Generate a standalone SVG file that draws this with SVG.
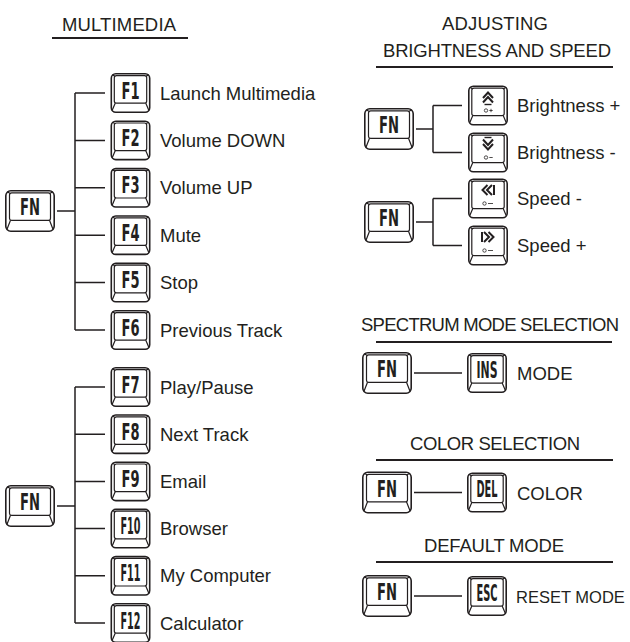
<svg xmlns="http://www.w3.org/2000/svg" xmlns:xlink="http://www.w3.org/1999/xlink" width="630" height="642" viewBox="0 0 630 642">
<style>
.ko{fill:#fff;stroke:#231f20;stroke-width:1.6}
.ki{fill:none;stroke:#231f20;stroke-width:1.2;stroke-linejoin:round}
.kt{font-family:"DejaVu Sans Condensed","DejaVu Sans",sans-serif;font-weight:bold;font-stretch:condensed;font-size:23px;fill:#231f20;text-anchor:middle}
.lb{font-family:"Liberation Sans",Arial,sans-serif;font-size:18.5px;fill:#231f20}
.hd{font-family:"Liberation Sans",Arial,sans-serif;font-size:18.5px;fill:#231f20;text-anchor:middle}
.ul{stroke:#231f20;stroke-width:2;fill:none}
.cn{stroke:#231f20;stroke-width:1.5;fill:none}
.ic{stroke:#231f20;stroke-width:2;fill:none;stroke-linejoin:miter}
.ts{stroke:#231f20;stroke-width:0.8;fill:none}
</style>
<defs>
<symbol id="k40" viewBox="0 0 40 40" width="40" height="40" overflow="visible">
<rect x="0.8" y="0.8" width="38.4" height="38.4" rx="4.5" class="ko"/>
<rect x="3.8" y="2.6" width="32.4" height="27.6" rx="2.2" class="ki"/>
<path d="M4.8,30 L1.6,37.6 M35.2,30 L38.4,37.6 M4.3,3.1 L1.8,1.8 M35.7,3.1 L38.2,1.8" class="ki"/>
</symbol>
<symbol id="k50" viewBox="0 0 50 42" width="50" height="42" overflow="visible">
<rect x="0.8" y="0.8" width="48.4" height="40.4" rx="5" class="ko"/>
<rect x="4.5" y="2.8" width="41" height="27.6" rx="2.2" class="ki"/>
<path d="M5.5,30.2 L1.8,39.8 M44.5,30.2 L48.2,39.8 M5,3.3 L2,1.8 M45,3.3 L48,1.8" class="ki"/>
</symbol>
</defs>

<g id="headings">
<text class="hd" x="119" y="31" textLength="114">MULTIMEDIA</text>
<path class="ul" d="M52,38 H188"/>
<text class="hd" x="495" y="30" textLength="106">ADJUSTING</text>
<text class="hd" x="497" y="57" textLength="228">BRIGHTNESS AND SPEED</text>
<path class="ul" d="M376,67 H613"/>
<text class="hd" x="490" y="331" textLength="258">SPECTRUM MODE SELECTION</text>
<path class="ul" d="M376,342 H612"/>
<text class="hd" x="495" y="450" textLength="170">COLOR SELECTION</text>
<path class="ul" d="M376,460 H613"/>
<text class="hd" x="494" y="552" textLength="140">DEFAULT MODE</text>
<path class="ul" d="M376,562 H613"/>
</g>

<g id="connectors">
<path class="cn" d="M57,211 H75 M75,93 V330 M75,93 H105 M75,140.4 H105 M75,187.8 H105 M75,235.2 H105 M75,282.6 H105 M75,330 H105"/>
<path class="cn" d="M57,506 H75 M75,387 V623 M75,387 H105 M75,434.2 H105 M75,481.4 H105 M75,528.6 H105 M75,575.8 H105 M75,623 H105"/>
<path class="cn" d="M416,129 H433 M433,105.5 V152.5 M433,105.5 H462 M433,152.5 H462"/>
<path class="cn" d="M416,222 H433 M433,198.5 V245.5 M433,198.5 H462 M433,245.5 H462"/>
<path class="cn" d="M414,373 H462 M414,492.5 H462 M414,596 H462"/>
</g>

<g id="fn-multimedia-1"><use xlink:href="#k50" x="5" y="190"/><text class="kt" x="30" y="215" textLength="20" lengthAdjust="spacingAndGlyphs">FN</text></g>
<g id="fn-multimedia-2"><use xlink:href="#k50" x="5" y="485"/><text class="kt" x="30" y="510" textLength="20" lengthAdjust="spacingAndGlyphs">FN</text></g>

<g id="f1"><use xlink:href="#k40" x="110.5" y="73"/><text class="kt" x="130.5" y="98.5" textLength="18" lengthAdjust="spacingAndGlyphs">F1</text><text class="lb" x="160" y="99.5">Launch Multimedia</text></g>
<g id="f2"><use xlink:href="#k40" x="110.5" y="120.4"/><text class="kt" x="130.5" y="145.9" textLength="18" lengthAdjust="spacingAndGlyphs">F2</text><text class="lb" x="160" y="146.9">Volume DOWN</text></g>
<g id="f3"><use xlink:href="#k40" x="110.5" y="167.8"/><text class="kt" x="130.5" y="193.3" textLength="18" lengthAdjust="spacingAndGlyphs">F3</text><text class="lb" x="160" y="194.3">Volume UP</text></g>
<g id="f4"><use xlink:href="#k40" x="110.5" y="215.2"/><text class="kt" x="130.5" y="240.7" textLength="18" lengthAdjust="spacingAndGlyphs">F4</text><text class="lb" x="160" y="241.7">Mute</text></g>
<g id="f5"><use xlink:href="#k40" x="110.5" y="262.6"/><text class="kt" x="130.5" y="288.1" textLength="18" lengthAdjust="spacingAndGlyphs">F5</text><text class="lb" x="160" y="289.1">Stop</text></g>
<g id="f6"><use xlink:href="#k40" x="110.5" y="310"/><text class="kt" x="130.5" y="335.5" textLength="18" lengthAdjust="spacingAndGlyphs">F6</text><text class="lb" x="160" y="336.5">Previous Track</text></g>

<g id="f7"><use xlink:href="#k40" x="110.5" y="367"/><text class="kt" x="130.5" y="392.5" textLength="18" lengthAdjust="spacingAndGlyphs">F7</text><text class="lb" x="160" y="393.5">Play/Pause</text></g>
<g id="f8"><use xlink:href="#k40" x="110.5" y="414.2"/><text class="kt" x="130.5" y="439.7" textLength="18" lengthAdjust="spacingAndGlyphs">F8</text><text class="lb" x="160" y="440.7">Next Track</text></g>
<g id="f9"><use xlink:href="#k40" x="110.5" y="461.4"/><text class="kt" x="130.5" y="486.9" textLength="18" lengthAdjust="spacingAndGlyphs">F9</text><text class="lb" x="160" y="487.9">Email</text></g>
<g id="f10"><use xlink:href="#k40" x="110.5" y="508.6"/><text class="kt" x="130.5" y="534.1" textLength="20" lengthAdjust="spacingAndGlyphs">F10</text><text class="lb" x="160" y="535.1">Browser</text></g>
<g id="f11"><use xlink:href="#k40" x="110.5" y="555.8"/><text class="kt" x="130.5" y="581.3" textLength="20" lengthAdjust="spacingAndGlyphs">F11</text><text class="lb" x="160" y="582.3">My Computer</text></g>
<g id="f12"><use xlink:href="#k40" x="110.5" y="603"/><text class="kt" x="130.5" y="628.5" textLength="20" lengthAdjust="spacingAndGlyphs">F12</text><text class="lb" x="160" y="629.5">Calculator</text></g>

<g id="fn-brightness"><use xlink:href="#k50" x="364" y="108"/><text class="kt" x="389" y="133" textLength="20" lengthAdjust="spacingAndGlyphs">FN</text></g>
<g id="brightness-up"><use xlink:href="#k40" x="468" y="85.5"/>
<g transform="translate(468,85.5)"><path class="ic" d="M15,12.5 L20,7 L25,12.5 M15,17 L20,11.5 L25,17"/><path class="ic" d="M16.5,19 H23.5" style="stroke-width:1.4"/><circle cx="18" cy="25" r="1.7" class="ts"/><path class="ts" d="M21.3,25 H24.7 M23,23.3 V26.7"/></g>
<text class="lb" x="517" y="112">Brightness +</text></g>
<g id="brightness-down"><use xlink:href="#k40" x="468" y="132.5"/>
<g transform="translate(468,132.5)"><path class="ic" d="M16.5,5 H23.5" style="stroke-width:1.4"/><path class="ic" d="M15,7 L20,12.5 L25,7 M15,11.5 L20,17 L25,11.5"/><circle cx="18" cy="25" r="1.7" class="ts"/><path class="ts" d="M21.3,25 H24.7"/></g>
<text class="lb" x="517" y="159">Brightness -</text></g>

<g id="fn-speed"><use xlink:href="#k50" x="364" y="201"/><text class="kt" x="389" y="226" textLength="20" lengthAdjust="spacingAndGlyphs">FN</text></g>
<g id="speed-down"><use xlink:href="#k40" x="468" y="178.5"/>
<g transform="translate(468,178.5)"><path class="ic" d="M19.5,6.5 L14.5,11.5 L19.5,16.5 M24,6.5 L19,11.5 L24,16.5 M26,6.5 V16.5"/><circle cx="16.5" cy="25" r="1.7" class="ts"/><path class="ts" d="M20,25 H25"/></g>
<text class="lb" x="517" y="205">Speed -</text></g>
<g id="speed-up"><use xlink:href="#k40" x="468" y="225.5"/>
<g transform="translate(468,225.5)"><path class="ic" d="M14,6.5 V16.5 M16,6.5 L21,11.5 L16,16.5 M20.5,6.5 L25.5,11.5 L20.5,16.5"/><circle cx="16.5" cy="25" r="1.7" class="ts"/><path class="ts" d="M20,25 H25"/></g>
<text class="lb" x="517" y="252">Speed +</text></g>

<g id="fn-spectrum"><use xlink:href="#k50" x="362" y="352"/><text class="kt" x="387" y="377" textLength="20" lengthAdjust="spacingAndGlyphs">FN</text></g>
<g id="ins"><use xlink:href="#k40" x="467" y="353"/><text class="kt" x="487" y="377.5" textLength="21" lengthAdjust="spacingAndGlyphs">INS</text><text class="lb" x="517" y="380">MODE</text></g>

<g id="fn-color"><use xlink:href="#k50" x="362" y="471.5"/><text class="kt" x="387" y="496.5" textLength="20" lengthAdjust="spacingAndGlyphs">FN</text></g>
<g id="del"><use xlink:href="#k40" x="467" y="472.5"/><text class="kt" x="487" y="497" textLength="21" lengthAdjust="spacingAndGlyphs">DEL</text><text class="lb" x="517" y="499.5">COLOR</text></g>

<g id="fn-default"><use xlink:href="#k50" x="362" y="575"/><text class="kt" x="387" y="600" textLength="20" lengthAdjust="spacingAndGlyphs">FN</text></g>
<g id="esc"><use xlink:href="#k40" x="467" y="576"/><text class="kt" x="487" y="600.5" textLength="21" lengthAdjust="spacingAndGlyphs">ESC</text><text class="lb" x="516" y="602.5" style="font-size:16.5px">RESET MODE</text></g>
</svg>
